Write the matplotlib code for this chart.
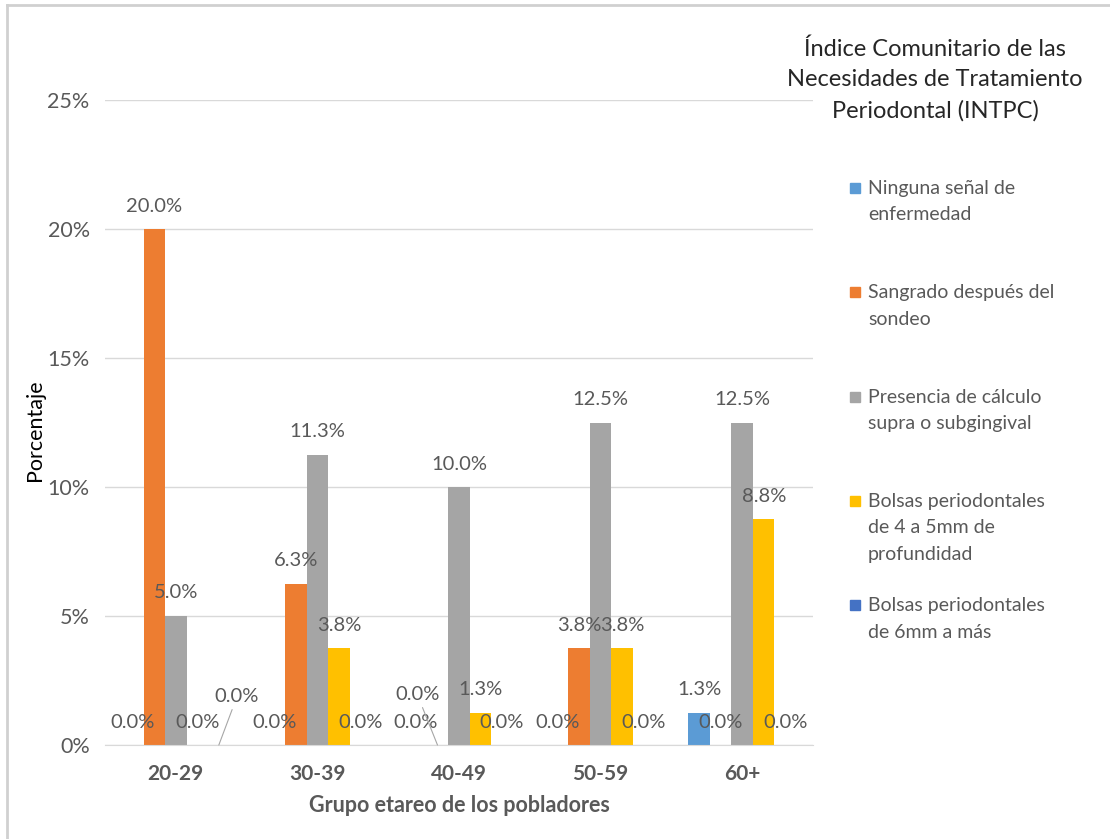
import numpy as np
import matplotlib
matplotlib.use("Agg")
import matplotlib.pyplot as plt
from matplotlib.patches import Rectangle
from matplotlib.lines import Line2D
from decimal import Decimal, ROUND_HALF_UP

# Data (percent of respondents)
grupos = ["20-29", "30-39", "40-49", "50-59", "60+"]
series = [
    "Ninguna señal de\nenfermedad",
    "Sangrado después del\nsondeo",
    "Presencia de cálculo\nsupra o subgingival",
    "Bolsas periodontales\nde 4 a 5mm de\nprofundidad",
    "Bolsas periodontales\nde 6mm a más",
]
ninguna = [0.0, 0.0, 0.0, 0.0, 1.25]
sangrado = [20.0, 6.25, 0.0, 3.75, 0.0]
calculo = [5.0, 11.25, 10.0, 12.5, 12.5]
bolsas_4_5 = [0.0, 3.75, 1.25, 3.75, 8.75]
bolsas_6 = [0.0, 0.0, 0.0, 0.0, 0.0]
yticks = [0, 5, 10, 15, 20, 25]

colors = ["#5B9BD5", "#ED7D31", "#A5A5A5", "#FFC000", "#4472C4"]
text_gray = "#595959"
grid_gray = "#D9D9D9"

# labels that Excel moved away from the bar (series, group): offset in pixels
moved_labels = {(4, 0): (18, 48), (1, 2): (-20, 50)}

plt.rcParams["font.family"] = ["Lato", "DejaVu Sans"]

W, H = 1110, 839
fig = plt.figure(figsize=(W / 100, H / 100), dpi=100)
ax = fig.add_axes([105 / W, 1 - 745 / H, (813 - 105) / W, (745 - 100) / H])

data = [ninguna, sangrado, calculo, bolsas_4_5, bolsas_6]
x = np.arange(len(grupos))
bw = 0.152


def fmt(v):
    return str(Decimal(str(v)).quantize(Decimal("0.1"), rounding=ROUND_HALF_UP)) + "%"


for i, vals in enumerate(data):
    xs = x + (i - 2) * bw
    ax.bar(xs, vals, width=bw, color=colors[i], zorder=2)
    for j, (xx, v) in enumerate(zip(xs, vals)):
        if (i, j) in moved_labels:
            dx, dy = moved_labels[(i, j)]
            ax.annotate(fmt(v), xy=(xx, v), xytext=(dx, dy), textcoords="offset pixels",
                        ha="center", va="center", fontsize=14.5, color=text_gray,
                        arrowprops=dict(arrowstyle="-", color="#A6A6A6", lw=0.8,
                                        shrinkA=1, shrinkB=0))
        else:
            ax.annotate(fmt(v), xy=(xx, v), xytext=(0, 23), textcoords="offset pixels",
                        ha="center", va="center", fontsize=14.5, color=text_gray)

ax.set_xlim(-0.5, len(grupos) - 0.5)
ax.set_ylim(0, 25)
ax.set_yticks(yticks)
ax.set_yticklabels([f"{t}%" for t in yticks])
ax.set_xticks(x)
ax.set_xticklabels(grupos, fontweight="bold")
ax.tick_params(axis="y", length=0, pad=11, labelsize=15.5, labelcolor=text_gray)
ax.tick_params(axis="x", length=0, pad=14, labelsize=15, labelcolor=text_gray)
ax.grid(axis="y", color=grid_gray, lw=1, zorder=0)
for s in ["top", "right", "left"]:
    ax.spines[s].set_visible(False)
ax.spines["bottom"].set_color(grid_gray)

fig.text(35 / W, 1 - 430 / H, "Porcentaje", rotation=90, ha="center", va="center",
         fontsize=15.5, color="black")
fig.text(459 / W, 1 - 805 / H, "Grupo etareo de los pobladores", ha="center", va="center",
         fontsize=15.5, fontweight="bold", color=text_gray)

fig.text(935 / W, 1 - 80 / H, "Índice Comunitario de las\nNecesidades de Tratamiento\nPeriodontal (INTPC)",
         ha="center", va="center", fontsize=17, color="#262626", linespacing=1.55)

# legend, first text line aligned with the marker
for i, lab in enumerate(series):
    y0 = 188 + i * 104.3
    fig.patches.append(Rectangle((850 / W, 1 - (y0 + 5) / H), 10 / W, 10 / H,
                                 transform=fig.transFigure, color=colors[i]))
    fig.text(868 / W, 1 - (y0 - 8) / H, lab, ha="left", va="top", fontsize=14,
             color=text_gray, linespacing=1.67)

# outer frame of the screenshot
fig.add_artist(Line2D([7 / W, 7 / W], [0, 1 - 5 / H], transform=fig.transFigure, color="#D0D0D0", lw=2))
fig.add_artist(Line2D([7 / W, 1], [1 - 5 / H, 1 - 5 / H], transform=fig.transFigure, color="#D0D0D0", lw=2))

fig.savefig("out.png", dpi=100)
